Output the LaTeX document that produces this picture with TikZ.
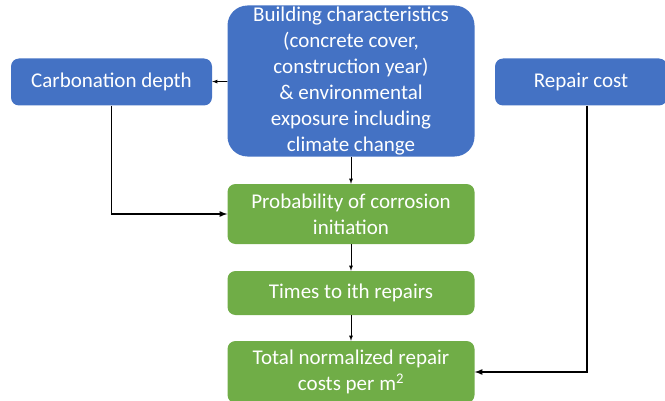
\documentclass[tikz,border=0pt]{standalone}
\usepackage{fontspec}
\setmainfont{Carlito}
\usepackage{tikz}
\usetikzlibrary{arrows}

\definecolor{boxblue}{HTML}{4472C4}
\definecolor{boxgreen}{HTML}{70AD47}

\begin{document}
\begin{tikzpicture}[x=1pt, y=1pt,
    box/.style={rectangle, rounded corners=8pt, text=white, align=center,
      font=\fontsize{21}{26}\selectfont, inner sep=0pt},
    bluebox/.style={box, fill=boxblue},
    greenbox/.style={box, fill=boxgreen}]
      \def \mid {351}   % x of the middle column
      \def \wide {247}  % width of the middle boxes

      \clip (0,0) rectangle (665,400);

      \node[bluebox, rounded corners=20pt, minimum width=\wide, minimum height=151](build) at (\mid,319)
        {Building characteristics\\(concrete cover,\\construction year)\\\& environmental\\exposure including\\climate change};
      \node[bluebox, minimum width=201, minimum height=47](carb) at (111.5,318) {Carbonation depth};
      \node[bluebox, minimum width=172, minimum height=47](repair) at (581,318) {Repair cost};

      \node[greenbox, minimum width=\wide, minimum height=60](prob) at (\mid,186) {Probability of corrosion\\initiation};
      \node[greenbox, minimum width=\wide, minimum height=44](times) at (\mid,107) {Times to ith repairs};
      \node[greenbox, minimum width=\wide, minimum height=62](total) at (\mid,28) {Total normalized repair\\costs per m\textsuperscript{2}};

      \draw[->, >=latex, line width=0.8pt] (build) -- (carb);
      \draw[->, >=latex, line width=0.8pt] (build) -- (prob);
      \draw[->, >=latex, line width=0.8pt] (prob) -- (times);
      \draw[->, >=latex, line width=0.8pt] (times) -- (total);
      \draw[->, >=latex, line width=1.6pt] (carb.south) |- (prob.west);
      \draw[->, >=latex, line width=1.6pt] (repair.south -| 587,0) |- (total.east);
    \end{tikzpicture}
\end{document}
